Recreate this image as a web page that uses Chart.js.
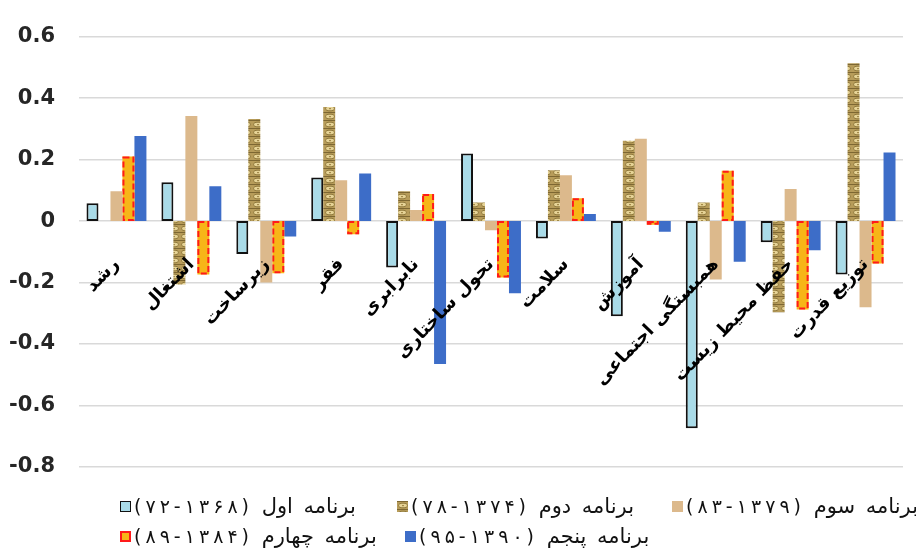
<!DOCTYPE html>
<html>
<head>
<meta charset="utf-8">
<script src="https://cdn.jsdelivr.net/npm/chart.js@4.4.1/dist/chart.umd.min.js"></script>
<style>
html,body{margin:0;padding:0;background:#fff;overflow:hidden}
#wrap{position:relative;width:916px;height:556px;overflow:hidden}
#c{position:absolute;left:0;top:0}
#legend{position:absolute;left:120px;top:491px;display:grid;grid-template-columns:277px 275px 320px;grid-auto-rows:30px;font-family:'DejaVu Sans';font-size:21px;color:#111;white-space:nowrap}
.item{display:flex;align-items:center}
.box{width:11px;height:11px;flex:none;box-sizing:border-box;margin-right:1px}
.txt{direction:rtl;unicode-bidi:isolate;word-spacing:4px}
.d{font-size:19px}
.ch{padding:0 2px}
</style>
</head>
<body>
<div id="wrap">
<canvas id="c" width="916" height="556"></canvas>
<div id="legend"></div>
</div>
<script>
// ---- data ----
const categories = ['رشد','اشتغال','زیرساخت','فقر','نابرابری','تحول ساختاری','سلامت','آموزش','همبستگی اجتماعی','حفظ محیط زیست','توزیع قدرت'];
const seriesNames = ['برنامه اول (۱۳۶۸-۷۲)','برنامه دوم (۱۳۷۴-۷۸)','برنامه سوم (۱۳۷۹-۸۳)','برنامه چهارم (۱۳۸۴-۸۹)','برنامه پنجم (۱۳۹۰-۹۵)'];
const plan1 = [0.058, 0.126, -0.107, 0.142, -0.151, 0.220, -0.057, -0.310, -0.674, -0.069, -0.174];
const plan2 = [0.000, -0.206, 0.332, 0.371, 0.097, 0.060, 0.165, 0.261, 0.060, -0.297, 0.513];
const plan3 = [0.097, 0.342, -0.200, 0.133, 0.036, -0.030, 0.149, 0.268, -0.190, 0.104, -0.280];
const plan4 = [0.210, -0.174, -0.170, -0.043, 0.088, -0.184, 0.074, -0.012, 0.164, -0.288, -0.138];
const plan5 = [0.277, 0.113, -0.050, 0.155, -0.465, -0.235, 0.023, -0.035, -0.132, -0.095, 0.223];
const yTickLabels = ['-0.8','-0.6','-0.4','-0.2','0','0.2','0.4','0.6'];

// ---- styles ----
function goldTile(){
  const c = document.createElement('canvas'); c.width = 12; c.height = 8;
  const g = c.getContext('2d');
  g.fillStyle = '#b79c5a'; g.fillRect(0,0,12,8);
  g.fillStyle = '#7d6732'; g.fillRect(0,0,12,1);
  g.beginPath(); g.ellipse(6,4.5,4.4,2.3,0,0,Math.PI*2);
  g.fillStyle = '#e6d396'; g.fill();
  g.lineWidth = 0.8; g.strokeStyle = '#80692f'; g.stroke();
  g.fillStyle = '#a38a4a'; g.fillRect(5,4,2,1.2);
  return c;
}
const tile = goldTile();
const ctx = document.getElementById('c').getContext('2d');
const goldPattern = ctx.createPattern(tile, 'repeat');

const fills = ['#a9dbe8', goldPattern, '#dcb98c', '#f7b517', '#3d6dc8'];

const dashBorder = {
  id: 'dashBorder',
  afterDatasetDraw(chart, args) {
    if (args.index !== 3) return;
    const c = chart.ctx;
    c.save();
    c.strokeStyle = '#ff1a1a'; c.lineWidth = 2; c.setLineDash([6, 3]);
    args.meta.data.forEach(el => {
      const p = el.getProps(['x','y','base','width'], true);
      const l = p.x - p.width/2 + 1, r = p.x + p.width/2 - 1;
      const t = Math.min(p.y, p.base) + 1, b = Math.max(p.y, p.base) - 1;
      c.strokeRect(l, t, r - l, Math.max(b - t, 0.5));
    });
    c.restore();
  }
};

const chart = new Chart(ctx, {
  type: 'bar',
  data: {
    labels: categories,
    datasets: [
      { label: seriesNames[0], data: plan1, backgroundColor: fills[0], borderColor: '#111', borderWidth: 2, borderSkipped: false },
      { label: seriesNames[1], data: plan2, backgroundColor: fills[1], borderWidth: 0 },
      { label: seriesNames[2], data: plan3, backgroundColor: fills[2], borderWidth: 0 },
      { label: seriesNames[3], data: plan4, backgroundColor: fills[3], borderWidth: 0 },
      { label: seriesNames[4], data: plan5, backgroundColor: fills[4], borderWidth: 0 }
    ]
  },
  options: {
    responsive: false,
    animation: false,
    layout: { padding: { top: 31, bottom: 89, right: 13, left: 0 } },
    datasets: { bar: { categoryPercentage: 0.8, barPercentage: 1.0 } },
    plugins: { legend: { display: false }, tooltip: { enabled: false } },
    scales: {
      x: {
        position: { y: 0 },
        grid: { display: false },
        border: { display: false },
        ticks: {
          z: 1,
          autoSkip: false, minRotation: 46, maxRotation: 46, padding: 25,
          color: '#000', font: { family: 'DejaVu Sans', size: 18, weight: 'bold' }
        }
      },
      y: {
        min: -0.8, max: 0.6,
        ticks: {
          stepSize: 0.2, padding: 24, color: '#262626',
          font: { family: 'DejaVu Sans', size: 21, weight: 'bold' },
          callback: (v, i) => yTickLabels[i]
        },
        grid: { color: '#d9d9d9', lineWidth: 1.5, drawTicks: false },
        border: { display: false },
        afterFit(s) { s.width = 79; }
      }
    }
  },
  plugins: [dashBorder]
});

// ---- HTML legend built from the chart's datasets ----
const boxCss = [
  'background:#a9dbe8;border:1.5px solid #111',
  'background-image:url(' + tile.toDataURL() + ')',
  'background:#dcb98c',
  'background:#f7b517;border:2px solid #ff1a1a',
  'background:#3d6dc8'
];
const leg = document.getElementById('legend');
chart.data.datasets.forEach((ds, i) => {
  const m = ds.label.match(/^(.*?)\s*(\(.*\))$/);
  const spaced = Array.from(m[2]).map(ch => '<span class="ch">' + ch + '</span>').join('');
  const item = document.createElement('div');
  item.className = 'item';
  if (i === 3) item.style.gridColumn = '1';
  if (i === 4) item.style.marginLeft = '8px';
  item.innerHTML = '<span class="box" style="' + boxCss[i] + '"></span>' +
    '<span class="txt">' + m[1] + ' <span class="d">' + spaced + '</span></span>';
  leg.appendChild(item);
});
</script>
</body>
</html>
